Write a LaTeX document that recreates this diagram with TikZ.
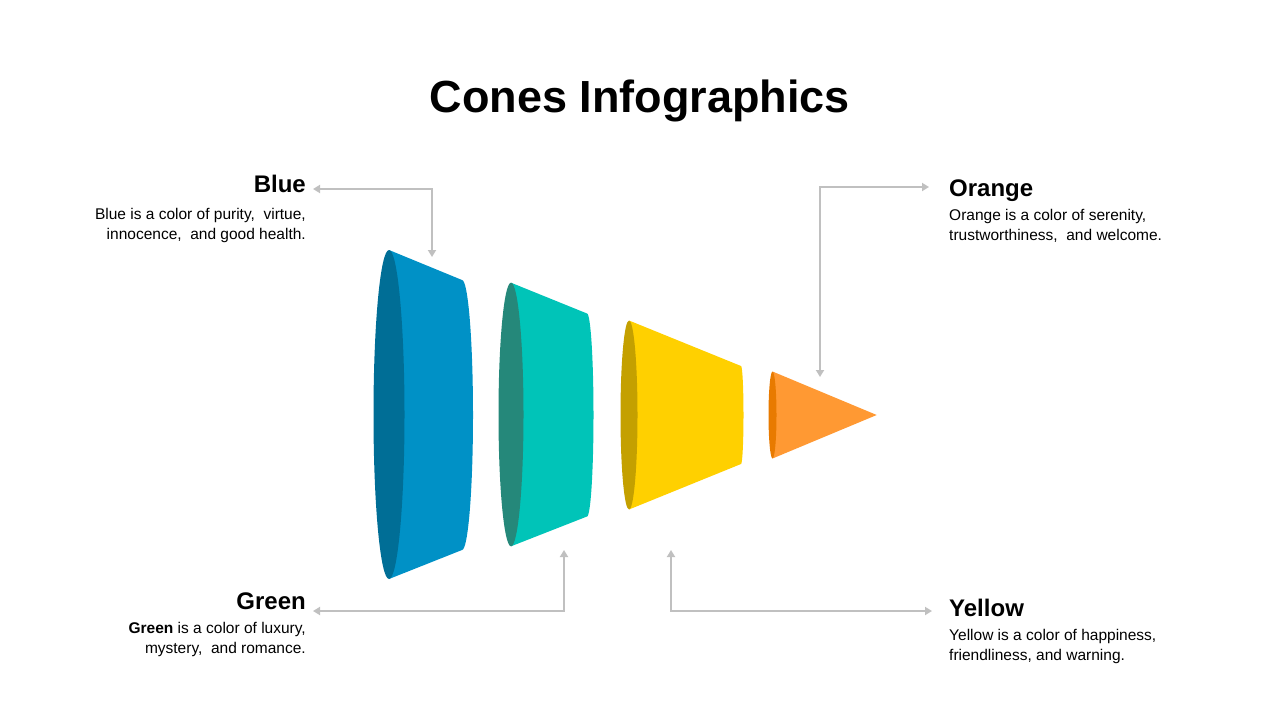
\documentclass[tikz,border=0pt]{standalone}
\usepackage{fontspec}
\setmainfont{Liberation Sans}
\usetikzlibrary{arrows.meta}
\definecolor{lgray}{HTML}{C0C0C0}
\definecolor{blueA}{HTML}{0091C6}
\definecolor{blueB}{HTML}{006E96}
\definecolor{tealA}{HTML}{00C4B8}
\definecolor{tealB}{HTML}{25887A}
\definecolor{yelA}{HTML}{FFD000}
\definecolor{yelB}{HTML}{C4A000}
\definecolor{orgA}{HTML}{FF9933}
\definecolor{orgB}{HTML}{E87A00}
\begin{document}
\begin{tikzpicture}[x=1pt,y=-1pt,
  conn/.style={draw=lgray,line width=2.8pt,{Triangle[length=7pt,width=8pt]}-{Triangle[length=7pt,width=8pt]}},
  headtxt/.style={inner sep=0pt,font=\fontsize{24}{28}\selectfont\bfseries},
  bodytxt/.style={inner sep=0pt,font=\fontsize{15.5}{20}\selectfont},
  titletxt/.style={inner sep=0pt,font=\fontsize{45}{50}\selectfont\bfseries}]
\useasboundingbox (0,0) rectangle (1280,720);
\fill[white] (0,0) rectangle (1280,720);

% title
\node[titletxt,anchor=base] (title) at (640,112) {Cones Infographics};

% cones
\fill[blueA] (389,250) -- (462,280) arc[start angle=90,end angle=-90,x radius=11pt,y radius=135pt] -- (389,579) -- cycle;
\fill[blueB] (389,414.5) ellipse[x radius=15.5pt,y radius=164.5pt];

\fill[tealA] (511,282.7) -- (587,313.5) arc[start angle=90,end angle=-90,x radius=6.5pt,y radius=101.5pt] -- (511,546.3) -- cycle;
\fill[tealB] (511,414.5) ellipse[x radius=12.5pt,y radius=131.8pt];

\fill[yelA] (629,320.5) -- (741,366) arc[start angle=90,end angle=-90,x radius=2.5pt,y radius=49pt] -- (629,509.5) -- cycle;
\fill[yelB] (629,415) ellipse[x radius=8.5pt,y radius=94.5pt];

\fill[orgA] (772.5,371.5) -- (876.7,415) -- (772.5,458.5) -- cycle;
\fill[orgB] (772.5,415) ellipse[x radius=4pt,y radius=43.5pt];

% texts (base anchor of a multi-line node = last line's baseline)
\node[headtxt,anchor=base east] (bluehead) at (306,192) {Blue};
\node[bodytxt,anchor=base east,align=right] (bluebody) at (306,239) {Blue is a color of purity,\ \ virtue,\\innocence,\ \ and good health.};

\node[headtxt,anchor=base west] (orghead) at (949,196) {Orange};
\node[bodytxt,anchor=base west,align=left] (orgbody) at (949,240) {Orange is a color of serenity,\\trustworthiness,\ \ and welcome.};

\node[headtxt,anchor=base east] (greenhead) at (306,609) {Green};
\node[bodytxt,anchor=base east,align=right] (greenbody) at (306,653) {\textbf{Green} is a color of luxury,\\mystery,\ \ and romance.};

\node[headtxt,anchor=base west] (yelhead) at (949,616) {Yellow};
\node[bodytxt,anchor=base west,align=left] (yelbody) at (949,660) {Yellow is a color of happiness,\\friendliness,\ and warning.};

% connector ends
\coordinate (blueC) at (432,257);
\coordinate (blueT) at (313,189);
\coordinate (orgC) at (820,377);
\coordinate (orgT) at (929,187);
\coordinate (greenC) at (564,550);
\coordinate (greenT) at (313,611);
\coordinate (yelC) at (671,550);
\coordinate (yelT) at (932,611);

\draw[conn] (blueC) |- (blueT);
\draw[conn] (orgC) |- (orgT);
\draw[conn] (greenC) |- (greenT);
\draw[conn] (yelC) |- (yelT);
\end{tikzpicture}
\end{document}
